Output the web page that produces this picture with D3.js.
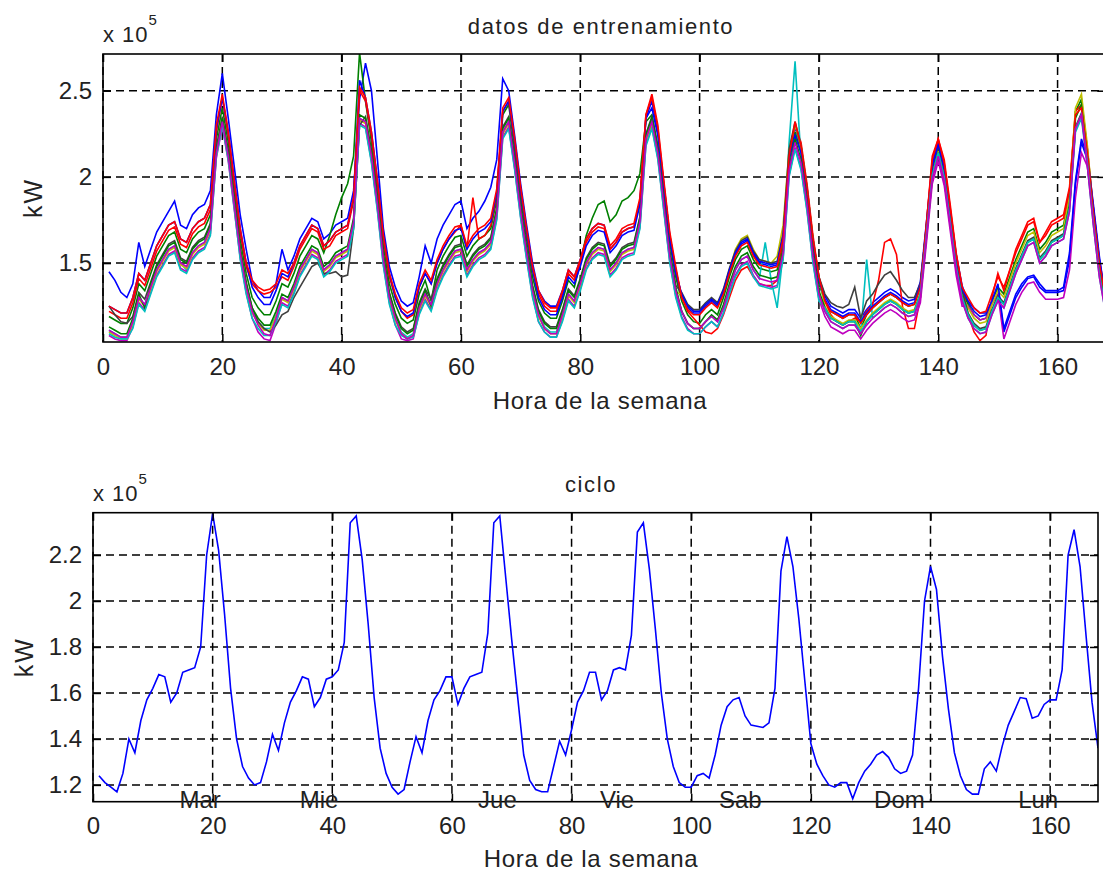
<!DOCTYPE html>
<html>
<head>
<meta charset="utf-8">
<script src="https://cdn.jsdelivr.net/npm/d3@7"></script>
<style>
  body { margin: 0; background: #fff; }
  svg text { font-family: "Liberation Sans", Arial, sans-serif; fill: #222; }
</style>
</head>
<body>
<svg id="chart" width="1103" height="873"></svg>
<script>
// hour of the week for every sample
const hours = d3.range(1, 169);
const xTicks = [0, 20, 40, 60, 80, 100, 120, 140, 160];
const topYTicks = [1.5, 2, 2.5];
const bottomYTicks = [1.2, 1.4, 1.6, 1.8, 2, 2.2];
const dayLabels = ["Mar", "Mie", "Jue", "Vie", "Sab", "Dom", "Lun"];
const dayHours = [17.9, 37.8, 67.6, 87.6, 108.2, 134.8, 158];

// training weeks, x 10^5 kW
const train1 = [
  1.45,1.40,1.33,1.30,1.38,1.62,1.48,1.58,1.68,1.74,1.80,1.86,
  1.72,1.70,1.78,1.82,1.84,1.92,2.36,2.60,2.34,2.06,1.78,1.58,
  1.40,1.34,1.30,1.30,1.38,1.58,1.46,1.54,1.64,1.70,1.76,1.74,
  1.64,1.67,1.72,1.74,1.76,1.92,2.45,2.66,2.50,2.10,1.70,1.48,
  1.36,1.28,1.25,1.27,1.42,1.60,1.50,1.64,1.72,1.78,1.84,1.86,
  1.70,1.76,1.80,1.86,1.94,2.10,2.57,2.50,2.24,1.96,1.72,1.50,
  1.34,1.28,1.25,1.25,1.34,1.46,1.42,1.52,1.64,1.70,1.73,1.72,
  1.58,1.62,1.68,1.70,1.71,1.86,2.34,2.44,2.26,1.96,1.66,1.46,
  1.31,1.24,1.21,1.21,1.25,1.28,1.25,1.33,1.45,1.55,1.61,1.63,
  1.55,1.50,1.49,1.48,1.49,1.65,2.13,2.29,2.17,1.93,1.63,1.41,
  1.31,1.25,1.23,1.21,1.23,1.23,1.18,1.23,1.27,1.30,1.33,1.35,
  1.33,1.30,1.28,1.29,1.39,1.73,2.08,2.21,2.07,1.81,1.55,1.37,
  1.27,1.22,1.19,1.20,1.28,1.36,1.10,1.20,1.30,1.36,1.41,1.42,
  1.36,1.33,1.33,1.33,1.34,1.52,1.96,2.20,2.10,1.82,1.52,1.28];
const train2 = [
  1.19,1.17,1.15,1.15,1.24,1.38,1.34,1.44,1.54,1.60,1.66,1.68,
  1.58,1.56,1.64,1.68,1.70,1.78,2.22,2.40,2.20,1.92,1.64,1.44,
  1.30,1.24,1.20,1.20,1.28,1.38,1.36,1.44,1.54,1.60,1.66,1.64,
  1.56,1.66,1.78,1.88,1.96,2.12,2.72,2.44,2.20,1.92,1.60,1.38,
  1.26,1.18,1.15,1.17,1.32,1.40,1.28,1.46,1.54,1.60,1.65,1.66,
  1.54,1.60,1.64,1.66,1.70,1.87,2.36,2.42,2.16,1.88,1.64,1.42,
  1.28,1.21,1.18,1.18,1.28,1.40,1.36,1.50,1.66,1.76,1.84,1.86,
  1.74,1.78,1.86,1.88,1.92,2.02,2.32,2.36,2.18,1.90,1.62,1.42,
  1.28,1.20,1.16,1.15,1.20,1.23,1.20,1.30,1.42,1.52,1.58,1.60,
  1.52,1.47,1.46,1.45,1.46,1.62,2.10,2.26,2.14,1.90,1.60,1.38,
  1.28,1.22,1.20,1.18,1.20,1.20,1.12,1.20,1.24,1.27,1.30,1.32,
  1.30,1.27,1.25,1.26,1.36,1.70,2.05,2.18,2.04,1.78,1.52,1.34,
  1.26,1.20,1.17,1.18,1.28,1.36,1.32,1.42,1.52,1.60,1.68,1.70,
  1.58,1.62,1.68,1.70,1.72,1.90,2.38,2.45,2.16,1.80,1.50,1.30];
const train3 = [
  1.22,1.20,1.18,1.18,1.27,1.41,1.37,1.47,1.57,1.63,1.69,1.71,
  1.61,1.59,1.67,1.71,1.73,1.81,2.26,2.46,2.24,1.96,1.68,1.48,
  1.38,1.34,1.32,1.33,1.36,1.42,1.40,1.48,1.58,1.64,1.70,1.68,
  1.58,1.60,1.66,1.68,1.70,1.86,2.50,2.44,2.24,1.96,1.64,1.42,
  1.30,1.22,1.18,1.20,1.36,1.44,1.38,1.50,1.58,1.64,1.68,1.72,
  1.58,1.88,1.64,1.66,1.72,1.90,2.38,2.44,2.20,1.92,1.68,1.46,
  1.32,1.25,1.22,1.22,1.32,1.44,1.40,1.50,1.62,1.68,1.71,1.70,
  1.58,1.62,1.68,1.70,1.71,1.86,2.36,2.46,2.28,1.96,1.66,1.46,
  1.30,1.22,1.18,1.14,1.10,1.09,1.12,1.20,1.30,1.40,1.46,1.48,
  1.42,1.38,1.37,1.37,1.40,1.60,2.14,2.30,2.20,1.96,1.66,1.42,
  1.28,1.20,1.16,1.14,1.16,1.18,1.16,1.22,1.26,1.40,1.62,1.64,
  1.55,1.25,1.12,1.12,1.30,1.72,2.12,2.22,2.10,1.84,1.56,1.36,
  1.20,1.10,1.05,1.08,1.30,1.44,1.34,1.46,1.58,1.66,1.74,1.76,
  1.62,1.68,1.74,1.76,1.78,1.94,2.38,2.42,2.16,1.82,1.52,1.32];
const train4 = [
  1.11,1.09,1.07,1.07,1.16,1.30,1.26,1.36,1.46,1.52,1.58,1.60,
  1.50,1.46,1.56,1.60,1.62,1.70,2.14,2.32,2.12,1.84,1.56,1.36,
  1.22,1.16,1.12,1.12,1.20,1.30,1.28,1.36,1.46,1.52,1.58,1.56,
  1.46,1.49,1.54,1.56,1.58,1.74,2.34,2.32,2.12,1.84,1.52,1.30,
  1.18,1.10,1.07,1.09,1.24,1.32,1.26,1.38,1.46,1.52,1.57,1.58,
  1.46,1.52,1.56,1.58,1.62,1.79,2.26,2.32,2.08,1.80,1.56,1.34,
  1.20,1.13,1.10,1.10,1.20,1.32,1.28,1.38,1.50,1.56,1.59,1.58,
  1.46,1.50,1.56,1.58,1.59,1.74,2.22,2.32,2.14,1.84,1.54,1.34,
  1.22,1.15,1.12,1.12,1.16,1.19,1.16,1.24,1.36,1.46,1.52,1.54,
  1.46,1.41,1.62,1.40,1.24,1.56,2.20,2.67,2.10,1.84,1.54,1.32,
  1.22,1.16,1.14,1.12,1.14,1.14,1.09,1.52,1.18,1.21,1.24,1.26,
  1.24,1.21,1.19,1.20,1.30,1.64,1.99,2.12,1.98,1.72,1.46,1.28,
  1.18,1.12,1.09,1.10,1.20,1.28,1.24,1.34,1.44,1.52,1.60,1.62,
  1.50,1.54,1.60,1.62,1.64,1.80,2.26,2.34,2.06,1.72,1.42,1.22];
const train5 = [
  1.08,1.06,1.05,1.05,1.13,1.27,1.23,1.33,1.43,1.49,1.55,1.57,
  1.47,1.45,1.53,1.57,1.59,1.67,2.11,2.29,2.09,1.81,1.53,1.33,
  1.18,1.10,1.06,1.05,1.15,1.27,1.25,1.33,1.43,1.49,1.55,1.53,
  1.43,1.46,1.51,1.53,1.55,1.71,2.31,2.29,2.09,1.81,1.49,1.27,
  1.14,1.06,1.05,1.06,1.21,1.29,1.23,1.35,1.43,1.49,1.54,1.55,
  1.43,1.49,1.53,1.55,1.59,1.76,2.23,2.29,2.05,1.77,1.53,1.31,
  1.16,1.10,1.07,1.07,1.17,1.29,1.25,1.35,1.47,1.53,1.56,1.55,
  1.43,1.47,1.53,1.55,1.56,1.71,2.19,2.29,2.11,1.81,1.51,1.31,
  1.19,1.12,1.09,1.09,1.13,1.16,1.13,1.21,1.33,1.43,1.49,1.51,
  1.43,1.38,1.37,1.36,1.37,1.53,2.01,2.17,2.05,1.81,1.51,1.29,
  1.19,1.13,1.11,1.09,1.11,1.11,1.06,1.11,1.15,1.18,1.21,1.23,
  1.21,1.18,1.16,1.17,1.27,1.61,1.96,2.09,1.95,1.69,1.43,1.25,
  1.25,1.20,1.17,1.18,1.26,1.32,1.06,1.16,1.26,1.33,1.38,1.39,
  1.33,1.29,1.29,1.29,1.30,1.46,1.88,2.14,2.06,1.80,1.48,1.22];
const train6 = [
  1.10,1.08,1.06,1.06,1.15,1.29,1.25,1.35,1.45,1.51,1.57,1.59,
  1.49,1.47,1.55,1.59,1.61,1.69,2.13,2.31,2.11,1.83,1.55,1.35,
  1.21,1.15,1.11,1.11,1.19,1.29,1.27,1.35,1.45,1.51,1.57,1.55,
  1.45,1.48,1.53,1.55,1.57,1.73,2.33,2.31,2.11,1.83,1.51,1.29,
  1.17,1.09,1.06,1.08,1.23,1.31,1.25,1.37,1.45,1.51,1.56,1.57,
  1.45,1.51,1.55,1.57,1.61,1.78,2.25,2.31,2.07,1.79,1.55,1.33,
  1.19,1.12,1.09,1.09,1.19,1.31,1.27,1.37,1.49,1.55,1.58,1.57,
  1.45,1.49,1.55,1.57,1.58,1.73,2.21,2.31,2.13,1.83,1.53,1.33,
  1.32,1.25,1.22,1.22,1.26,1.29,1.26,1.34,1.46,1.58,1.64,1.66,
  1.58,1.52,1.51,1.50,1.54,1.72,2.16,2.30,2.18,1.94,1.64,1.42,
  1.25,1.19,1.17,1.15,1.17,1.17,1.12,1.17,1.21,1.24,1.27,1.29,
  1.27,1.24,1.22,1.23,1.33,1.67,2.02,2.15,2.01,1.75,1.49,1.31,
  1.24,1.18,1.15,1.16,1.26,1.34,1.30,1.40,1.50,1.58,1.66,1.68,
  1.56,1.60,1.66,1.68,1.70,1.90,2.40,2.48,2.18,1.80,1.48,1.28];
const train7 = [
  1.25,1.20,1.16,1.15,1.19,1.33,1.29,1.39,1.49,1.55,1.61,1.63,
  1.53,1.51,1.59,1.63,1.65,1.73,2.17,2.35,2.15,1.87,1.59,1.39,
  1.24,1.16,1.12,1.10,1.14,1.20,1.22,1.30,1.36,1.42,1.48,1.50,
  1.44,1.44,1.45,1.42,1.43,1.70,2.30,2.35,2.15,1.87,1.55,1.33,
  1.21,1.13,1.10,1.12,1.27,1.35,1.29,1.41,1.49,1.55,1.60,1.61,
  1.49,1.55,1.59,1.61,1.65,1.82,2.29,2.35,2.11,1.83,1.59,1.37,
  1.23,1.16,1.13,1.13,1.23,1.35,1.31,1.41,1.53,1.59,1.62,1.61,
  1.49,1.53,1.59,1.61,1.62,1.77,2.25,2.35,2.17,1.87,1.57,1.37,
  1.33,1.26,1.23,1.23,1.27,1.30,1.27,1.35,1.47,1.57,1.63,1.65,
  1.57,1.52,1.51,1.50,1.51,1.67,2.16,2.32,2.18,1.94,1.64,1.42,
  1.32,1.27,1.25,1.24,1.26,1.36,1.18,1.28,1.32,1.38,1.43,1.45,
  1.40,1.34,1.30,1.30,1.38,1.70,2.05,2.18,2.04,1.78,1.52,1.34,
  1.21,1.15,1.12,1.13,1.23,1.31,1.27,1.37,1.47,1.55,1.63,1.65,
  1.53,1.57,1.63,1.65,1.67,1.83,2.29,2.37,2.09,1.75,1.45,1.25];
const train8 = [
  1.25,1.23,1.21,1.21,1.30,1.44,1.40,1.50,1.60,1.66,1.72,1.74,
  1.64,1.62,1.70,1.74,1.76,1.84,2.28,2.46,2.26,1.98,1.70,1.50,
  1.36,1.30,1.26,1.26,1.34,1.44,1.42,1.50,1.60,1.66,1.72,1.70,
  1.60,1.63,1.68,1.70,1.72,1.88,2.56,2.46,2.26,1.98,1.66,1.44,
  1.30,1.22,1.19,1.21,1.36,1.44,1.38,1.50,1.58,1.64,1.69,1.70,
  1.58,1.64,1.68,1.70,1.74,1.91,2.38,2.44,2.20,1.92,1.68,1.46,
  1.30,1.23,1.20,1.20,1.30,1.42,1.38,1.48,1.60,1.66,1.69,1.68,
  1.56,1.60,1.66,1.68,1.69,1.84,2.34,2.40,2.24,1.94,1.64,1.44,
  1.32,1.25,1.22,1.22,1.26,1.29,1.26,1.34,1.46,1.56,1.62,1.64,
  1.56,1.51,1.50,1.49,1.50,1.66,2.10,2.24,2.14,1.92,1.62,1.40,
  1.29,1.23,1.21,1.19,1.21,1.21,1.16,1.21,1.25,1.28,1.31,1.33,
  1.31,1.28,1.26,1.27,1.37,1.71,2.06,2.19,2.05,1.79,1.53,1.35,
  1.28,1.24,1.21,1.21,1.28,1.38,1.12,1.22,1.32,1.38,1.42,1.43,
  1.38,1.34,1.34,1.34,1.36,1.56,1.98,2.22,2.12,1.84,1.54,1.30];
const train9 = [
  1.13,1.11,1.09,1.09,1.18,1.32,1.24,1.38,1.48,1.54,1.60,1.62,
  1.52,1.50,1.58,1.62,1.64,1.72,2.16,2.34,2.14,1.86,1.58,1.38,
  1.24,1.18,1.14,1.14,1.22,1.32,1.30,1.38,1.48,1.54,1.60,1.58,
  1.48,1.51,1.56,1.58,1.60,1.76,2.36,2.34,2.14,1.86,1.54,1.32,
  1.20,1.12,1.09,1.11,1.26,1.34,1.25,1.40,1.48,1.54,1.59,1.60,
  1.48,1.54,1.58,1.60,1.64,1.81,2.28,2.34,2.10,1.82,1.58,1.36,
  1.22,1.15,1.12,1.12,1.22,1.34,1.30,1.40,1.52,1.58,1.61,1.60,
  1.48,1.52,1.58,1.60,1.61,1.76,2.24,2.34,2.16,1.86,1.56,1.36,
  1.22,1.15,1.12,1.12,1.16,1.20,1.17,1.26,1.38,1.48,1.54,1.56,
  1.48,1.43,1.42,1.41,1.42,1.58,2.06,2.22,2.10,1.86,1.56,1.34,
  1.24,1.18,1.16,1.14,1.16,1.16,1.08,1.16,1.20,1.23,1.26,1.28,
  1.26,1.23,1.21,1.22,1.32,1.66,2.01,2.14,2.00,1.74,1.48,1.30,
  1.20,1.14,1.11,1.12,1.22,1.30,1.26,1.36,1.46,1.54,1.62,1.64,
  1.52,1.56,1.62,1.64,1.66,1.84,2.34,2.42,2.10,1.76,1.46,1.26];
const train10 = [
  1.25,1.23,1.21,1.21,1.30,1.44,1.40,1.50,1.60,1.66,1.72,1.74,
  1.64,1.62,1.70,1.74,1.76,1.84,2.30,2.48,2.26,1.98,1.70,1.50,
  1.40,1.36,1.34,1.35,1.38,1.46,1.44,1.50,1.60,1.66,1.72,1.70,
  1.60,1.63,1.68,1.70,1.72,1.88,2.52,2.46,2.26,1.98,1.66,1.44,
  1.32,1.24,1.21,1.23,1.38,1.46,1.40,1.52,1.60,1.66,1.71,1.72,
  1.60,1.66,1.70,1.72,1.76,1.93,2.40,2.46,2.22,1.94,1.70,1.48,
  1.34,1.27,1.24,1.24,1.34,1.46,1.42,1.52,1.64,1.70,1.73,1.72,
  1.60,1.64,1.70,1.72,1.73,1.88,2.36,2.48,2.30,1.98,1.68,1.48,
  1.30,1.23,1.20,1.20,1.24,1.27,1.24,1.32,1.44,1.54,1.60,1.62,
  1.54,1.49,1.48,1.47,1.48,1.64,2.12,2.32,2.18,1.94,1.64,1.42,
  1.28,1.22,1.20,1.18,1.20,1.20,1.15,1.20,1.24,1.27,1.30,1.32,
  1.30,1.27,1.25,1.26,1.36,1.72,2.10,2.22,2.08,1.82,1.55,1.36,
  1.30,1.24,1.21,1.22,1.32,1.42,1.36,1.46,1.56,1.64,1.72,1.74,
  1.62,1.66,1.72,1.74,1.76,1.92,2.36,2.40,2.14,1.80,1.50,1.30];
const train11 = [
  1.09,1.07,1.06,1.06,1.12,1.26,1.22,1.32,1.42,1.48,1.54,1.56,
  1.46,1.44,1.52,1.56,1.58,1.66,2.12,2.30,2.10,1.82,1.52,1.32,
  1.18,1.12,1.08,1.08,1.16,1.26,1.24,1.32,1.42,1.48,1.54,1.52,
  1.42,1.45,1.50,1.52,1.54,1.70,2.30,2.28,2.08,1.80,1.48,1.26,
  1.14,1.08,1.06,1.07,1.20,1.28,1.22,1.34,1.42,1.48,1.53,1.54,
  1.42,1.48,1.52,1.54,1.58,1.75,2.22,2.28,2.04,1.76,1.52,1.30,
  1.16,1.10,1.07,1.07,1.16,1.28,1.24,1.34,1.46,1.52,1.55,1.54,
  1.42,1.46,1.52,1.54,1.55,1.70,2.18,2.28,2.10,1.80,1.50,1.30,
  1.18,1.11,1.09,1.09,1.13,1.16,1.13,1.21,1.32,1.42,1.48,1.50,
  1.42,1.37,1.36,1.35,1.36,1.52,2.00,2.16,2.04,1.80,1.50,1.28,
  1.24,1.18,1.16,1.14,1.16,1.16,1.10,1.16,1.20,1.23,1.26,1.28,
  1.26,1.23,1.21,1.22,1.32,1.66,2.01,2.14,2.00,1.74,1.48,1.30,
  1.20,1.14,1.11,1.12,1.22,1.30,1.26,1.36,1.46,1.54,1.62,1.64,
  1.52,1.56,1.62,1.64,1.66,1.82,2.28,2.36,2.08,1.74,1.44,1.24];
const train12 = [
  1.11,1.09,1.07,1.07,1.16,1.30,1.26,1.36,1.46,1.52,1.58,1.60,
  1.50,1.48,1.56,1.60,1.62,1.70,2.14,2.32,2.12,1.84,1.56,1.36,
  1.22,1.14,1.09,1.08,1.18,1.30,1.28,1.36,1.46,1.52,1.58,1.56,
  1.46,1.49,1.54,1.56,1.58,1.74,2.34,2.32,2.12,1.84,1.52,1.30,
  1.18,1.09,1.06,1.08,1.24,1.32,1.26,1.38,1.46,1.52,1.57,1.58,
  1.46,1.52,1.56,1.58,1.62,1.79,2.26,2.32,2.08,1.80,1.56,1.34,
  1.20,1.12,1.09,1.09,1.20,1.32,1.28,1.38,1.50,1.56,1.59,1.58,
  1.46,1.50,1.56,1.58,1.59,1.74,2.22,2.32,2.14,1.84,1.54,1.34,
  1.22,1.15,1.12,1.12,1.16,1.19,1.16,1.24,1.36,1.46,1.52,1.54,
  1.46,1.41,1.40,1.39,1.40,1.56,2.04,2.20,2.08,1.84,1.54,1.32,
  1.22,1.16,1.14,1.12,1.14,1.14,1.09,1.14,1.18,1.21,1.24,1.26,
  1.24,1.21,1.19,1.20,1.30,1.64,1.99,2.12,1.98,1.72,1.46,1.28,
  1.18,1.12,1.09,1.10,1.20,1.28,1.24,1.34,1.44,1.52,1.60,1.62,
  1.50,1.54,1.60,1.62,1.64,1.80,2.28,2.36,2.06,1.72,1.42,1.22];

// average weekly cycle, x 10^5 kW
const ciclo = [
  1.24,1.21,1.19,1.17,1.25,1.40,1.34,1.48,1.57,1.62,1.68,1.67,
  1.56,1.60,1.69,1.70,1.71,1.80,2.20,2.38,2.22,1.94,1.62,1.40,
  1.28,1.23,1.20,1.21,1.30,1.42,1.35,1.47,1.56,1.61,1.67,1.66,
  1.54,1.58,1.66,1.67,1.70,1.82,2.34,2.37,2.18,1.90,1.58,1.36,
  1.25,1.19,1.16,1.18,1.30,1.41,1.34,1.48,1.57,1.61,1.67,1.67,
  1.55,1.62,1.67,1.68,1.69,1.86,2.34,2.37,2.10,1.83,1.58,1.33,
  1.22,1.18,1.17,1.17,1.28,1.39,1.33,1.44,1.56,1.61,1.69,1.69,
  1.57,1.61,1.70,1.71,1.70,1.85,2.30,2.34,2.14,1.88,1.60,1.40,
  1.28,1.21,1.19,1.19,1.24,1.25,1.23,1.33,1.46,1.54,1.57,1.58,
  1.50,1.46,1.455,1.45,1.47,1.62,2.13,2.28,2.15,1.92,1.65,1.38,
  1.29,1.24,1.20,1.19,1.21,1.21,1.14,1.21,1.26,1.29,1.33,1.345,
  1.32,1.27,1.25,1.26,1.33,1.62,2.00,2.15,2.05,1.76,1.53,1.34,
  1.24,1.18,1.16,1.16,1.27,1.30,1.26,1.37,1.46,1.52,1.58,1.575,
  1.49,1.50,1.55,1.57,1.57,1.70,2.20,2.31,2.15,1.85,1.56,1.36];

const trainSeries = [train1, train2, train3, train4, train5, train6,
  train7, train8, train9, train10, train11, train12];
// matlab colour order
const trainColors = ["#0000ff", "#008000", "#ff0000", "#00bfbf", "#bf00bf", "#bfbf00",
  "#404040", "#0000ff", "#008000", "#ff0000", "#00bfbf", "#bf00bf"];

const svg = d3.select("#chart");

const drawPanel = (p) => {
  const xScale = d3.scaleLinear().domain([0, 168]).range([p.left, p.right]);
  const yScale = d3.scaleLinear().domain(p.yDomain).range([p.bottom, p.top]);
  const g = svg.append("g");

  g.append("clipPath").attr("id", p.id)
    .append("rect")
    .attr("x", p.left).attr("y", p.top)
    .attr("width", p.right - p.left).attr("height", p.bottom - p.top);

  // dashed grid
  g.append("g").selectAll("line").data(xTicks).join("line")
    .attr("x1", d => xScale(d)).attr("x2", d => xScale(d))
    .attr("y1", p.top).attr("y2", p.bottom)
    .attr("stroke", "#000").attr("stroke-width", 1.5)
    .attr("stroke-dasharray", "8,5");
  g.append("g").selectAll("line").data(p.yTicks).join("line")
    .attr("x1", p.left).attr("x2", p.right)
    .attr("y1", d => yScale(d)).attr("y2", d => yScale(d))
    .attr("stroke", "#000").attr("stroke-width", 1.5)
    .attr("stroke-dasharray", "8,5");

  const line = d3.line()
    .x((d, i) => xScale(hours[i]))
    .y(d => yScale(d));

  const lines = g.append("g").attr("clip-path", `url(#${p.id})`);
  p.series.forEach((s, i) => {
    lines.append("path")
      .attr("d", line(s))
      .attr("fill", "none")
      .attr("stroke", p.colors[i])
      .attr("stroke-width", 1.6);
  });

  // axes, ticks pointing inwards like matlab
  const styleAxis = (a) => {
    a.select(".domain").remove();
    a.selectAll(".tick line").attr("stroke", "#000").attr("stroke-width", 1.5);
    a.selectAll(".tick text").attr("font-size", 24).attr("fill", "#222")
      .attr("font-family", "'Liberation Sans', Arial, sans-serif");
  };
  g.append("g")
    .attr("transform", `translate(0, ${p.bottom})`)
    .call(d3.axisBottom(xScale).tickValues(xTicks).tickSize(-8).tickSizeOuter(0).tickPadding(p.xPad))
    .call(styleAxis);
  g.append("g")
    .attr("transform", `translate(0, ${p.top})`)
    .call(d3.axisTop(xScale).tickValues(xTicks).tickSize(-8).tickSizeOuter(0).tickFormat(""))
    .call(styleAxis);
  g.append("g")
    .attr("transform", `translate(${p.left}, 0)`)
    .call(d3.axisLeft(yScale).tickValues(p.yTicks).tickSize(-8).tickSizeOuter(0).tickPadding(11)
      .tickFormat(d => String(d)))
    .call(styleAxis);
  g.append("g")
    .attr("transform", `translate(${p.right}, 0)`)
    .call(d3.axisRight(yScale).tickValues(p.yTicks).tickSize(-8).tickSizeOuter(0).tickFormat(""))
    .call(styleAxis);

  g.append("rect")
    .attr("x", p.left).attr("y", p.top)
    .attr("width", p.right - p.left).attr("height", p.bottom - p.top)
    .attr("fill", "none").attr("stroke", "#000").attr("stroke-width", 1.6);

  // labels
  g.append("text")
    .attr("x", p.titleX).attr("y", p.titleY)
    .attr("text-anchor", "middle")
    .attr("font-size", 22).attr("letter-spacing", 1.6)
    .text(p.title);
  g.append("text")
    .attr("x", p.xLabelX).attr("y", p.xLabelY)
    .attr("text-anchor", "middle")
    .attr("font-size", 24).attr("letter-spacing", 0.7)
    .text("Hora de la semana");
  g.append("text")
    .attr("transform", `translate(${p.yLabelX}, ${(p.top + p.bottom) / 2}) rotate(-90)`)
    .attr("text-anchor", "middle").attr("dy", "0.35em")
    .attr("font-size", 25).attr("letter-spacing", 2)
    .text("kW");
  const mult = g.append("text")
    .attr("x", p.left).attr("y", p.top - 12)
    .attr("font-size", 22).attr("letter-spacing", 1);
  mult.append("tspan").text("x 10");
  mult.append("tspan").attr("dy", -17).attr("font-size", 15).text("5");

  return { g, xScale, yScale };
};

drawPanel({
  id: "clipTop", left: 103, right: 1105.3, top: 54, bottom: 342,
  yDomain: [1.042, 2.713], yTicks: topYTicks,
  series: trainSeries, colors: trainColors,
  xPad: 16, title: "datos de entrenamiento", titleX: 601, titleY: 34,
  xLabelX: 600, xLabelY: 409, yLabelX: 33
});

const bottomPanel = drawPanel({
  id: "clipBottom", left: 93, right: 1098, top: 512.7, bottom: 801.7,
  yDomain: [1.127, 2.384], yTicks: bottomYTicks,
  series: [ciclo], colors: ["#0000ff"],
  xPad: 15, title: "ciclo", titleX: 591, titleY: 492,
  xLabelX: 591, xLabelY: 867, yLabelX: 24
});

bottomPanel.g.append("g").selectAll("text").data(dayLabels).join("text")
  .attr("x", (d, i) => bottomPanel.xScale(dayHours[i]))
  .attr("y", 808)
  .attr("text-anchor", "middle")
  .attr("font-size", 24)
  .text(d => d);
</script>
</body>
</html>
